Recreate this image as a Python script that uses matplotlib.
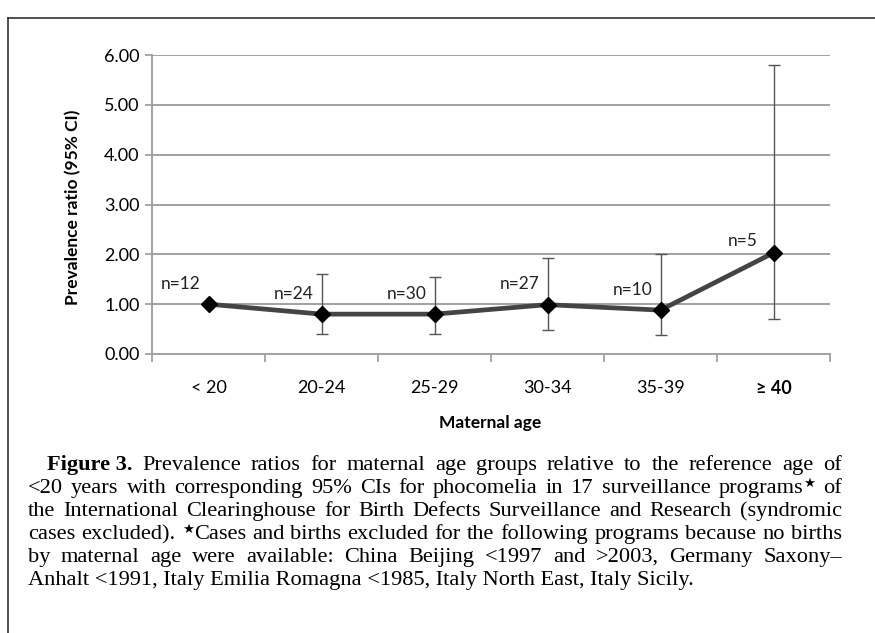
import matplotlib
matplotlib.use("Agg")
import matplotlib.pyplot as plt
import numpy as np

# data
age_groups = ["< 20", "20-24", "25-29", "30-34", "35-39", "\u2265 40"]
ratio = [1.00, 0.80, 0.80, 0.99, 0.88, 2.03]
ci_low = [1.00, 0.40, 0.40, 0.48, 0.38, 0.71]
ci_high = [1.00, 1.60, 1.55, 1.92, 2.01, 5.80]
n_cases = [12, 24, 30, 27, 10, 5]
yticks = [0, 1, 2, 3, 4, 5, 6]

caption_lines = [
    "Prevalence ratios for maternal age groups relative to the reference age of",
    "<20 years with corresponding 95% CIs for phocomelia in 17 surveillance programs\u2605 of",
    "the International Clearinghouse for Birth Defects Surveillance and Research (syndromic",
    "cases excluded). \u2605Cases and births excluded for the following programs because no births",
    "by maternal age were available: China Beijing <1997 and >2003, Germany Saxony\u2013",
    "Anhalt <1991, Italy Emilia Romagna <1985, Italy North East, Italy Sicily.",
]

W, H = 875, 633
fig = plt.figure(figsize=(W / 100, H / 100), dpi=100)
chart_font = "Lato"

ax = fig.add_axes([152 / W, 1 - 354 / H, (830 - 152) / W, (354 - 55) / H])
x = np.arange(len(age_groups))
ratio = np.array(ratio)
err = [ratio - np.array(ci_low), np.array(ci_high) - ratio]

for y in yticks[1:]:
    ax.axhline(y, color="#9a9a9a", lw=1.3, zorder=1)

ax.errorbar(x, ratio, yerr=err, fmt="none", ecolor="#555555", elinewidth=1.0,
            capsize=4, capthick=1.0, zorder=2)
ax.plot(x, ratio, color="#444444", lw=3.4, zorder=3)
ax.plot(x, ratio, ls="none", marker="D", ms=8.5, color="black", zorder=4)

for i, n in enumerate(n_cases):
    off = (-20, 9) if i < len(n_cases) - 1 else (-22, 3)
    ax.annotate("n=%d" % n, (x[i], ratio[i]), xytext=off, textcoords="offset points",
                ha="center", va="bottom", fontsize=12.5, family=chart_font, color="#222222")

ax.set_xlim(-0.5, len(age_groups) - 0.5)
ax.set_ylim(0, 6)
ax.set_yticks(yticks)
ax.set_yticklabels(["%.2f" % v for v in yticks], fontsize=13, family=chart_font)
ax.set_xticks(x)
ax.set_xticklabels(age_groups, fontsize=13, family=chart_font)
ax.get_xticklabels()[-1].set_fontweight("bold")
ax.set_xticks(np.arange(-0.5, len(age_groups)), minor=True)
ax.tick_params(axis="x", which="major", length=0, pad=19)
ax.tick_params(axis="x", which="minor", length=6, color="#9a9a9a", width=1.2)
ax.tick_params(axis="y", length=5, color="#9a9a9a", width=1.2, pad=4)
for s in ["top", "right"]:
    ax.spines[s].set_visible(False)
for s in ["left", "bottom"]:
    ax.spines[s].set_color("#9a9a9a")
    ax.spines[s].set_linewidth(1.3)

fig.text(73 / W, 1 - 207 / H, "Prevalence ratio (95% CI)", rotation=90, ha="center",
         va="center", fontsize=12.5, fontweight="bold", family=chart_font)
fig.text(490 / W, 1 - 423 / H, "Maternal age", ha="center", va="center",
         fontsize=12.5, fontweight="bold", family=chart_font)

# border of the figure box
fig.add_artist(plt.Line2D([8 / W, 1], [1 - 18 / H, 1 - 18 / H], color="#333333", lw=1.2))
fig.add_artist(plt.Line2D([8 / W, 8 / W], [0, 1 - 18 / H], color="#333333", lw=1.2))

# caption, justified by hand
serif = ["Liberation Serif", "DejaVu Sans"]
STAR = "\u2605"
renderer = fig.canvas.get_renderer()


def width_px(s, size, **kw):
    t = fig.text(0, 0, s, fontsize=size, family=serif, **kw)
    w = t.get_window_extent(renderer).width
    t.remove()
    return w


def pieces(word):
    # split a word so the star can be drawn small and raised
    out = []
    buf = ""
    for ch in word:
        if ch == STAR:
            if buf:
                out.append((buf, False))
            out.append((ch, True))
            buf = ""
        else:
            buf += ch
    if buf:
        out.append((buf, False))
    return out


def word_width(word, fw):
    return sum(width_px(p, cap_size * (0.6 if st else 1), fontweight=fw)
               for p, st in pieces(word))


def draw_word(word, fw, xp, ypix):
    for p, st in pieces(word):
        size = cap_size * (0.6 if st else 1)
        yy = ypix - (6 if st else 0)
        fig.text(xp / W, 1 - yy / H, p, fontsize=size, family=serif,
                 fontweight=fw, va="baseline", ha="left")
        xp += width_px(p, size, fontweight=fw)


# biggest size that lets every justified line keep normal word gaps
cap_size = 16.5
for k, line in enumerate(caption_lines[:-1]):
    x0 = 47 if k == 0 else 28
    s = line if k else "Figure 3.   " + line
    natural = width_px(s, 10)
    cap_size = min(cap_size, 10 * (842 - x0) / natural * 1.0)


def justify(words, x0, x1, ypix, first_bold=None):
    items = []
    if first_bold:
        items.append((first_bold, "bold"))
    items += [(w, "normal") for w in words]
    widths = [word_width(w, fw) for w, fw in items]
    gap = (x1 - x0 - sum(widths)) / (len(items) - 1)
    xp = x0
    for (w, fw), wd in zip(items, widths):
        draw_word(w, fw, xp, ypix)
        xp += wd + gap


base_y = 470
for k, line in enumerate(caption_lines):
    yb = base_y + k * 23
    if k == 0:
        justify(line.split(), 47, 842, yb, first_bold="Figure 3.")
    elif k < len(caption_lines) - 1:
        justify(line.split(), 28, 842, yb)
    else:
        fig.text(28 / W, 1 - yb / H, line, fontsize=cap_size, family=serif,
                 va="baseline", ha="left")

fig.savefig("out.png", dpi=100)
